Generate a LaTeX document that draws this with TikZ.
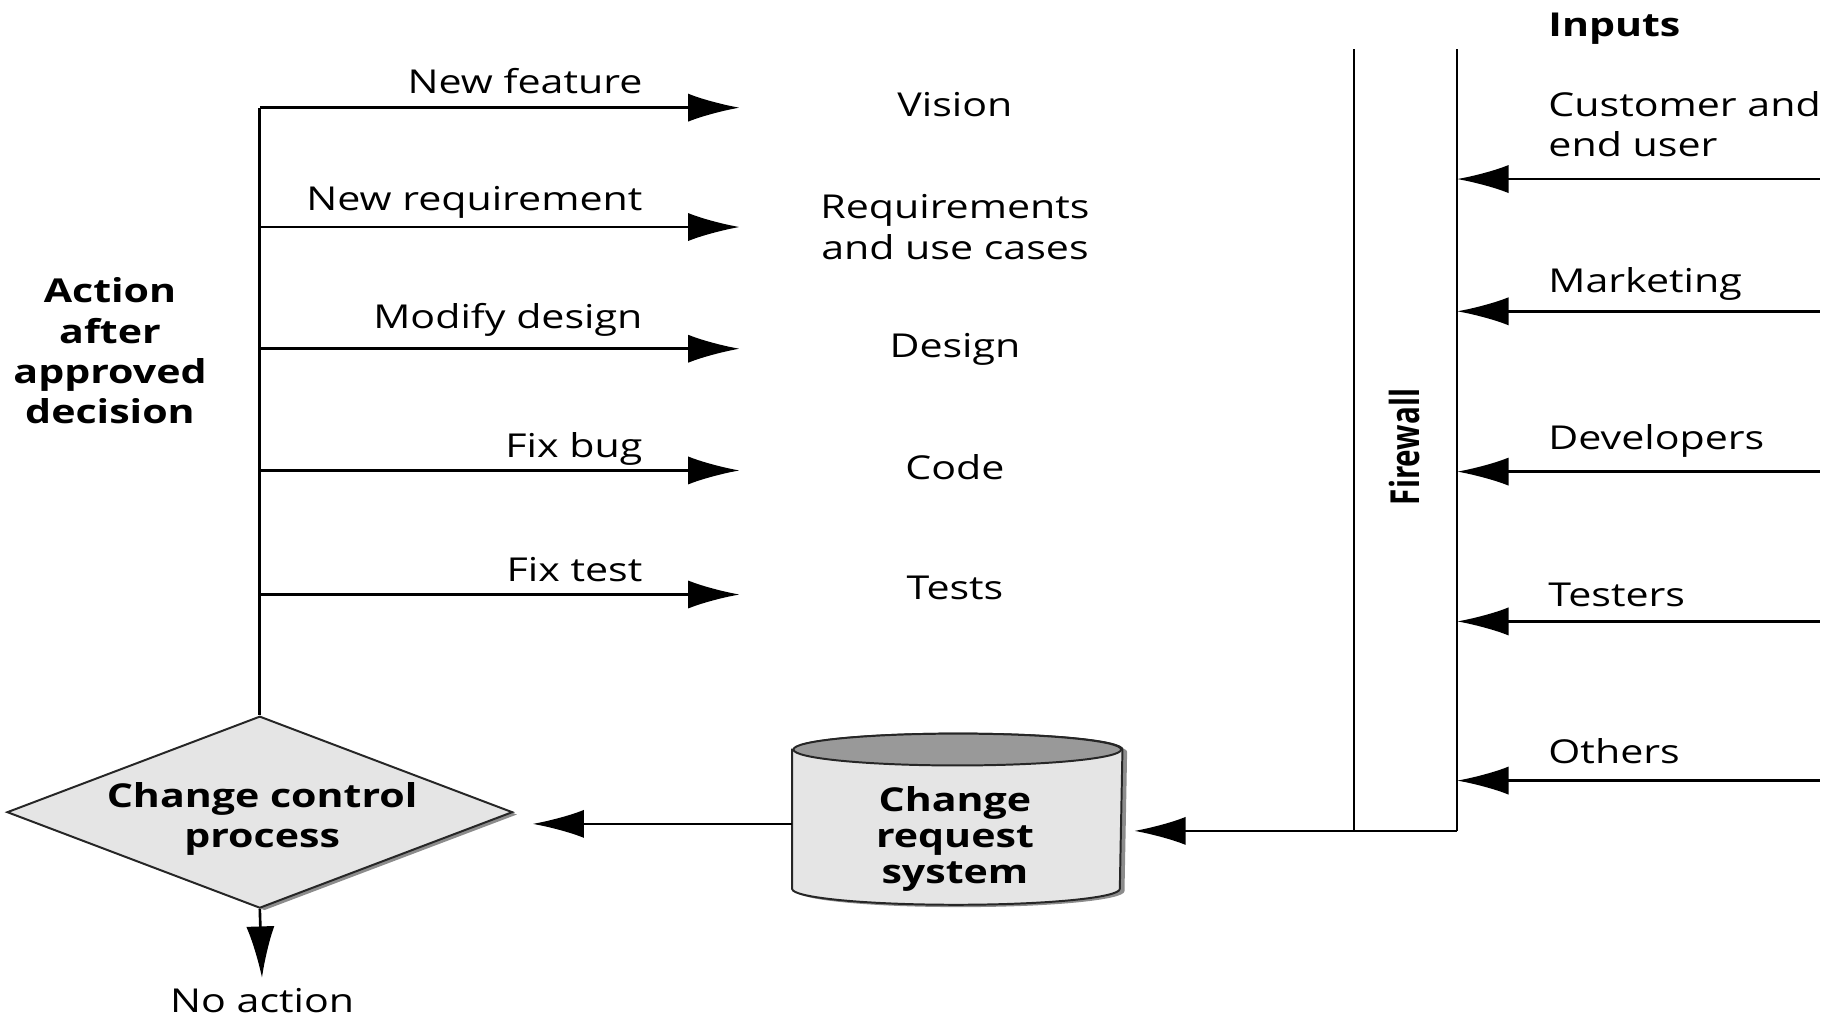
\documentclass[tikz,border=0pt]{standalone}
\usepackage{fontspec}
\setmainfont{Open Sans}[FakeStretch=1.25]
\newfontfamily\fwfont{Open Sans}
\usetikzlibrary{arrows.meta,shapes.geometric,shadows}

\definecolor{boxgray}{gray}{0.9}
\definecolor{capgray}{gray}{0.6}

\begin{document}
\begin{tikzpicture}[->,>={Latex[length=11mm,width=6mm]},line width=1.6pt,
    font=\fontsize{20}{24.5}\selectfont]
      \tikzstyle{stage}=[align=center,inner sep=1pt];
      \tikzstyle{lbl}=[anchor=base east,inner sep=0pt];
      \tikzstyle{inp}=[anchor=west,align=left,inner sep=0pt];
      \tikzstyle{bold}=[font=\fontsize{20}{24.5}\selectfont\bfseries,align=center,inner sep=0pt];
      \tikzstyle{shade}=[drop shadow={shadow xshift=1mm,shadow yshift=-0.5mm,fill=black!45,opacity=1}];
      \tikzstyle{outline}=[-,draw=black!85,line width=1.2pt];

      \useasboundingbox (0,0) rectangle (39.2,-21.8);

      % decision and store
      \node[shape=diamond,outline,fill=boxgray,shade,
            minimum width=10.8cm,minimum height=4.1cm,inner sep=0pt] (ccp) at (5.55,-17.35) {};
      \node[bold] (ccptext) at (5.6,-17.5) {Change control\\process};

      \node[minimum width=7cm,minimum height=3.6cm,inner sep=0pt] (crs) at (20.45,-17.5) {};
      \path[outline,fill=boxgray,shade]
        ([yshift=-3.4mm]crs.north west) -- ([yshift=3.4mm]crs.south west)
        arc[start angle=180,end angle=360,x radius=3.5cm,y radius=3.4mm]
        -- ([yshift=-3.4mm]crs.north east)
        arc[start angle=0,end angle=180,x radius=3.5cm,y radius=3.4mm] -- cycle;
      \path[outline,fill=capgray] ([yshift=-3.4mm]crs.north) ellipse[x radius=3.5cm,y radius=3.4mm];
      \node[bold,font=\fontsize{20}{22}\selectfont\bfseries] (crstext) at (20.4,-17.925) {Change\\request\\system};
      \node[inner sep=1mm] (noact) at (5.6,-21.38) {No action};

      % actions after the decision
      \node[bold] (act) at (2.35,-7.5) {Action\\after\\approved\\decision};
      \node[stage] (vision) at (20.4,-2.225) {Vision};
      \node[stage] (reqs) at (20.4,-4.85) {Requirements\\and use cases};
      \node[stage] (design) at (20.4,-7.47) {Design};
      \node[stage] (code) at (20.4,-9.975) {Code};
      \node[stage] (tests) at (20.4,-12.55) {Tests};

      \node[lbl] (nf) at (13.75,-2.0) {New feature};
      \node[lbl] (nr) at (13.75,-4.5) {New requirement};
      \node[lbl] (md) at (13.75,-7.025) {Modify design};
      \node[lbl] (fb) at (13.75,-9.775) {Fix bug};
      \node[lbl] (ft) at (13.75,-12.425) {Fix test};

      \coordinate (b1) at (5.55,-2.3);
      \coordinate (b2) at (5.55,-4.85);
      \coordinate (b3) at (5.55,-7.45);
      \coordinate (b4) at (5.55,-10.05);
      \coordinate (b5) at (5.55,-12.7);
      \coordinate (a1) at (15.8,-2.3);
      \coordinate (a2) at (15.8,-4.85);
      \coordinate (a3) at (15.8,-7.45);
      \coordinate (a4) at (15.8,-10.05);
      \coordinate (a5) at (15.8,-12.7);

      % inputs and firewall
      \node[bold,anchor=west] (inputs) at (33.05,-0.62) {Inputs};
      \node[inp] (cust) at (33.05,-2.65) {Customer and\\end user};
      \node[inp] (mkt) at (33.05,-6.075) {Marketing};
      \node[inp] (dev) at (33.05,-9.43) {Developers};
      \node[inp] (tst) at (33.05,-12.7) {Testers};
      \node[inp] (oth) at (33.05,-16.05) {Others};
      \node[inner sep=0pt,font=\fwfont\fontsize{18}{20}\selectfont\bfseries,
            rotate=90,yscale=1.35,transform shape] (fw) at (30.0,-9.55) {Firewall};

      \coordinate (fwl-top) at (28.925,-1.05);
      \coordinate (fwl-bot) at (28.925,-17.75);
      \coordinate (fwr-top) at (31.125,-1.05);
      \coordinate (fwr-bot) at (31.125,-17.75);
      \coordinate (i1) at (38.875,-3.825);
      \coordinate (i2) at (38.875,-6.65);
      \coordinate (i3) at (38.875,-10.075);
      \coordinate (i4) at (38.875,-13.275);
      \coordinate (i5) at (38.875,-16.675);
      \coordinate (ccp-in) at (11.375,-17.6);

      \draw[-] (b1) -- (ccp.north);
      \path (b1) edge (a1);
      \path (b2) edge (a2);
      \path (b3) edge (a3);
      \path (b4) edge (a4);
      \path (b5) edge (a5);

      \draw[-] (fwl-top) -- (fwl-bot);
      \draw[-] (fwr-top) -- (fwr-bot);
      \path (i1) edge (i1 -| fwr-top);
      \path (i2) edge (i2 -| fwr-top);
      \path (i3) edge (i3 -| fwr-top);
      \path (i4) edge (i4 -| fwr-top);
      \path (i5) edge (i5 -| fwr-top);

      \path (fwr-bot) edge[shorten >=0.25cm] (crs.east |- fwr-bot);
      \path (crs.west |- ccp-in) edge (ccp-in);
      \path (ccp.south) edge[shorten >=1mm] (noact.north);

    \end{tikzpicture}
\end{document}
